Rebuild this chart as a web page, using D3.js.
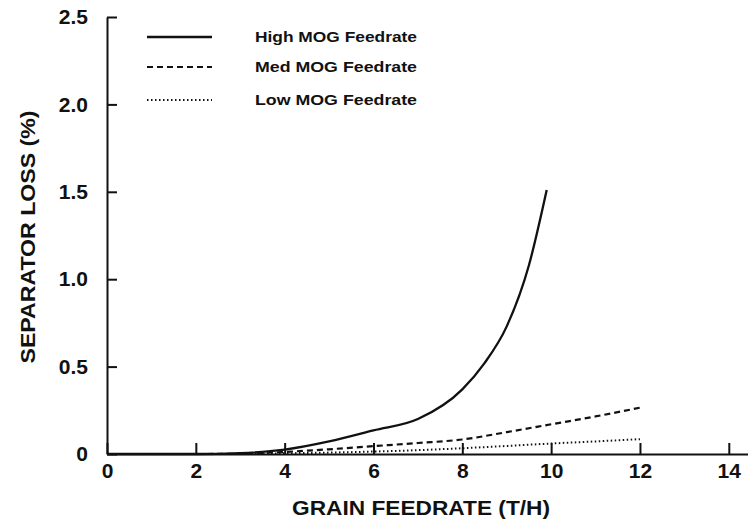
<!DOCTYPE html>
<meta charset="utf-8">
<head>
<style>
body { margin: 0; background: #fff; }
svg { display: block; background: #fff; }
text { font-family: "Liberation Sans", Arial, sans-serif; fill: #111; }
.axis path, .axis line { stroke: #111; stroke-width: 2px; }
.axis text { font-size: 21px; font-weight: bold; fill: #111; }
.series { fill: none; stroke: #111; }
.legend text { font-size: 15px; font-weight: bold; }
.title { font-size: 21px; font-weight: bold; }
</style>
<title>Separator loss</title>
</head>
<body>
<svg id="chart" width="748" height="522"></svg>
<script src="https://d3js.org/d3.v7.min.js"></script>
<script>
// grain feedrate (T/H) and separator loss (%) for each MOG feedrate
var highX = [0, 2, 3, 4, 5, 6, 7, 8, 8.5, 9, 9.5, 9.9];
var highY = [0, 0, 0.005, 0.025, 0.072, 0.135, 0.2, 0.37, 0.52, 0.73, 1.08, 1.51];
var medX = [0, 2, 3, 4, 5, 6, 7, 8, 9, 10, 11, 12];
var medY = [0, 0, 0.002, 0.012, 0.027, 0.045, 0.063, 0.083, 0.125, 0.17, 0.215, 0.265];
var lowX = [0, 2, 3, 4, 5, 6, 7, 8, 9, 10, 11, 12];
var lowY = [0, 0, 0, 0.004, 0.008, 0.014, 0.022, 0.033, 0.046, 0.06, 0.072, 0.085];

var seriesNames = ["High MOG Feedrate", "Med MOG Feedrate", "Low MOG Feedrate"];
var xTicks = [0, 2, 4, 6, 8, 10, 12, 14];
var yTicks = [0, 0.5, 1.0, 1.5, 2.0, 2.5];

var svg = d3.select("#chart");

var x = d3.scaleLinear().domain([0, 14.5]).range([107, 751]);
var y = d3.scaleLinear().domain([0, 2.5]).range([454, 17]);

// axes, ticks pointing inward
svg.append("g")
    .attr("class", "axis")
    .attr("transform", "translate(0,454)")
    .call(d3.axisBottom(x).tickValues(xTicks).tickSizeInner(-11).tickSizeOuter(0).tickPadding(9)
      .tickFormat(d3.format("d")));

svg.append("g")
    .attr("class", "axis")
    .attr("transform", "translate(107,0)")
    .call(d3.axisLeft(y).tickValues(yTicks).tickSizeInner(-10).tickSizeOuter(0).tickPadding(19)
      .tickFormat(function(d) { return d === 0 ? "0" : d3.format(".1f")(d); }));

var line = d3.line()
    .x(function(d) { return x(d[0]); })
    .y(function(d) { return y(d[1]); })
    .curve(d3.curveMonotoneX);

function pairs(xs, ys) {
  return xs.map(function(v, i) { return [v, ys[i]]; });
}

var styles = [
  { width: 2.3, dash: null },
  { width: 2.2, dash: "6,4" },
  { width: 2, dash: "1.5,2.5" }
];
var data = [pairs(highX, highY), pairs(medX, medY), pairs(lowX, lowY)];

data.forEach(function(d, i) {
  svg.append("path")
      .datum(d)
      .attr("class", "series")
      .attr("stroke-width", styles[i].width)
      .attr("stroke-dasharray", styles[i].dash)
      .attr("d", line);
});

// legend
var legend = svg.append("g").attr("class", "legend");
var legendY = [37, 67, 100];
seriesNames.forEach(function(name, i) {
  legend.append("line")
      .attr("class", "series")
      .attr("x1", 147).attr("x2", 212)
      .attr("y1", legendY[i]).attr("y2", legendY[i])
      .attr("stroke-width", styles[i].width)
      .attr("stroke-dasharray", styles[i].dash);
  legend.append("text")
      .attr("x", 255)
      .attr("y", legendY[i])
      .attr("dy", "0.35em")
      .attr("textLength", 162)
      .attr("lengthAdjust", "spacingAndGlyphs")
      .text(name);
});

// axis titles
svg.append("text")
    .attr("class", "title")
    .attr("x", 421)
    .attr("y", 515)
    .attr("text-anchor", "middle")
    .attr("textLength", 258)
    .attr("lengthAdjust", "spacingAndGlyphs")
    .text("GRAIN FEEDRATE (T/H)");

svg.append("text")
    .attr("class", "title")
    .attr("transform", "translate(35,237) rotate(-90)")
    .attr("text-anchor", "middle")
    .attr("textLength", 253)
    .attr("lengthAdjust", "spacingAndGlyphs")
    .text("SEPARATOR LOSS (%)");
</script>
</body>
